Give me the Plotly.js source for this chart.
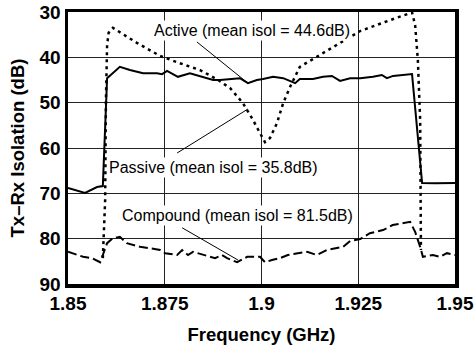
<!DOCTYPE html>
<html>
<head>
<meta charset="utf-8">
<script src="https://cdn.plot.ly/plotly-3.0.1.min.js"></script>
<style>html,body{margin:0;padding:0;background:#fff;}#chart{width:475px;height:349px;}</style>
</head>
<body>
<div id="chart"></div>
<script>
// Active (solid)
const activeFreq = [1.8500,1.8544,1.8575,1.8590,1.8601,1.8634,1.8660,1.8694,1.8730,1.8743,1.8756,1.8784,1.8815,1.8849,1.8875,1.8893,1.8924,1.8944,1.8965,1.8988,1.9004,1.9030,1.9056,1.9087,1.9099,1.9133,1.9159,1.9182,1.9203,1.9229,1.9255,1.9288,1.9311,1.9324,1.9340,1.9389,1.9415,1.9450,1.9500];
const activeIsol = [68.8,69.9,68.6,68.4,44.6,42.1,42.8,43.5,43.5,43.7,43.0,44.3,43.5,44.3,45.0,45.0,44.8,44.6,45.7,45.0,44.8,44.3,44.6,45.7,44.8,44.8,44.3,44.1,45.2,44.6,44.6,44.3,43.9,44.6,44.1,43.7,67.7,67.8,67.7];
// Passive (dotted)
const passiveFreq = [1.8590,1.8596,1.8598,1.8601,1.8605,1.8616,1.8678,1.8738,1.8789,1.8841,1.8888,1.8919,1.8952,1.8978,1.8996,1.9009,1.9022,1.9040,1.9056,1.9074,1.9099,1.9151,1.9203,1.9255,1.9319,1.9358,1.9389,1.9397,1.9404,1.9410,1.9412,1.9412];
const passiveIsol = [84.3,71.5,49.4,37.3,34.6,33.5,36.8,39.7,41.3,42.8,45.0,46.8,50.1,53.8,56.7,58.7,57.8,54.5,50.1,46.5,42.1,39.5,36.8,34.2,32.2,31.1,30.1,32.9,40.6,53.8,71.5,82.5];
// Compound (dashed)
const compoundFreq = [1.8500,1.8523,1.8539,1.8562,1.8583,1.8590,1.8601,1.8616,1.8634,1.8652,1.8686,1.8712,1.8738,1.8751,1.8782,1.8795,1.8810,1.8823,1.8849,1.8880,1.8898,1.8911,1.8937,1.8963,1.8996,1.9009,1.9027,1.9048,1.9068,1.9099,1.9118,1.9143,1.9169,1.9211,1.9229,1.9255,1.9280,1.9314,1.9339,1.9384,1.9397,1.9410,1.9417,1.9443,1.9461,1.9479,1.9500];
const compoundIsol = [82.9,83.6,84.0,84.3,85.2,83.6,81.0,79.9,79.6,81.0,81.8,82.1,82.5,83.2,83.6,82.5,83.6,82.9,83.6,84.3,83.6,84.3,85.2,84.0,84.0,85.2,84.7,84.3,83.6,83.2,82.9,83.6,82.5,81.8,80.5,80.1,78.8,78.1,77.0,76.3,78.5,81.8,84.0,83.6,84.0,83.2,83.6];

const xTickVals = [1.85,1.875,1.9,1.925,1.95];
const xTickText = ["1.85","1.875","1.9","1.925","1.95"];
const yTickVals = [30,40,50,60,70,80,90];

const labels = ["Active (mean isol = 44.6dB)","Passive (mean isol = 35.8dB)","Compound (mean isol = 81.5dB)"];

const FONT = "Arial, 'Liberation Sans', Helvetica, sans-serif";

const traces = [
  {x: activeFreq, y: activeIsol, mode: 'lines', line: {color: '#000', width: 2}, name: 'Active'},
  {x: passiveFreq, y: passiveIsol, mode: 'lines', line: {color: '#000', width: 2.5, dash: '3px,4px'}, name: 'Passive'},
  {x: compoundFreq, y: compoundIsol, mode: 'lines', line: {color: '#000', width: 2, dash: '9px,4px'}, name: 'Compound'}
];

const leader = (x0,y0,x1,y1) => ({type:'line', xref:'x', yref:'y', x0:x0, y0:y0, x1:x1, y1:y1, line:{color:'#000', width:1}});

const layout = {
  width: 475, height: 349,
  margin: {l: 68, r: 20, t: 12, b: 65},
  paper_bgcolor: '#fff', plot_bgcolor: '#fff',
  showlegend: false,
  font: {family: FONT, color: '#000'},
  xaxis: {
    range: [1.85, 1.95], tickvals: xTickVals, ticktext: xTickText,
    showgrid: true, gridcolor: '#222', gridwidth: 1,
    showline: true, linecolor: '#000', linewidth: 3.5, mirror: true,
    ticks: '', zeroline: false,
    tickfont: {size: 19, weight: 'bold', family: FONT},
    title: {text: 'Frequency (GHz)', font: {size: 18.5, weight: 'bold', family: FONT}, standoff: 16}
  },
  yaxis: {
    range: [90, 30], tickvals: yTickVals,
    showgrid: true, gridcolor: '#222', gridwidth: 1,
    showline: true, linecolor: '#000', linewidth: 3.5, mirror: true,
    ticks: '', zeroline: false,
    tickfont: {size: 19, weight: 'bold', family: FONT},
    title: {text: 'Tx–Rx Isolation (dB)', font: {size: 18.5, weight: 'bold', family: FONT}, standoff: 11}
  },
  shapes: [
    leader(1.8833, 36.6, 1.8965, 45.7),
    leader(1.8782, 61.1, 1.8965, 51.4),
    leader(1.8795, 77.6, 1.8939, 84.7)
  ],
  annotations: [
    {x: 1.8975, y: 34.0, xref:'x', yref:'y', text: labels[0], showarrow:false, bgcolor:'#fff', font:{size:16, family:FONT, color:'#000'}},
    {x: 1.8877, y: 64.4, xref:'x', yref:'y', text: labels[1], showarrow:false, bgcolor:'#fff', font:{size:16, family:FONT, color:'#000'}},
    {x: 1.8939, y: 74.8, xref:'x', yref:'y', text: labels[2], showarrow:false, bgcolor:'#fff', font:{size:16, family:FONT, color:'#000'}}
  ]
};

Plotly.newPlot('chart', traces, layout, {staticPlot: true, displayModeBar: false});
</script>
</body>
</html>
